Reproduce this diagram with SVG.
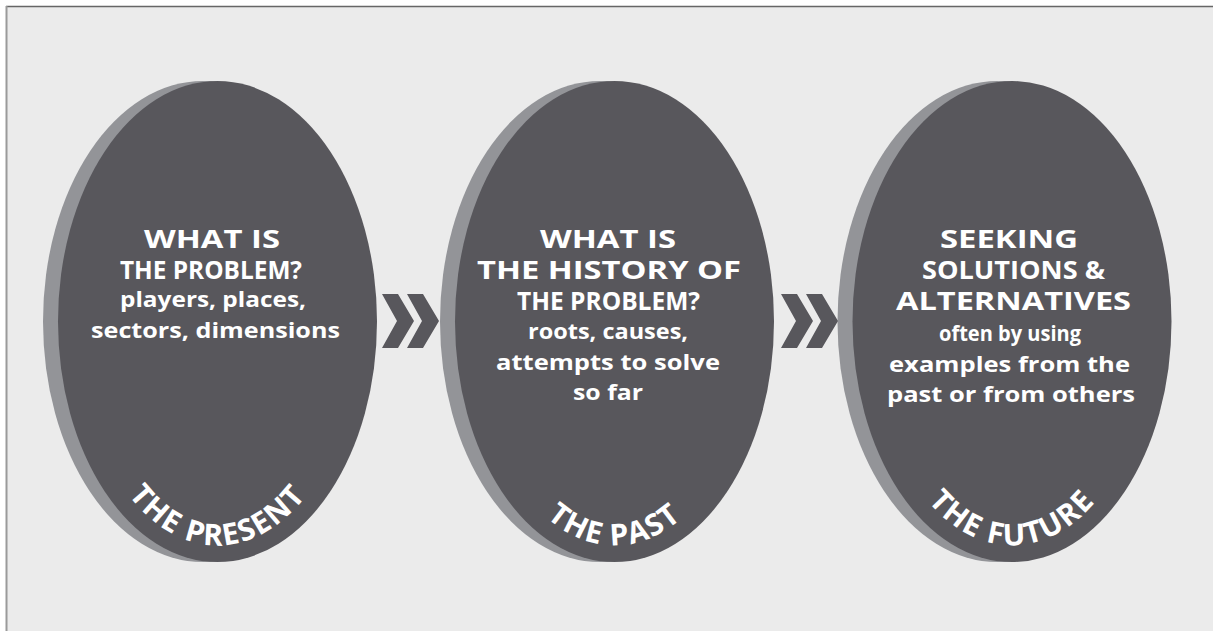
<svg xmlns="http://www.w3.org/2000/svg" width="1213" height="631" viewBox="0 0 1213 631">
<style>
.shadow{fill:#939498}
.oval{fill:#58575c}
.chev{fill:#58575c}
.h{font-family:"Open Sans","Liberation Sans",sans-serif;font-weight:bold;font-size:25px;fill:#fff;text-anchor:middle}
.s{font-family:"Open Sans","Liberation Sans",sans-serif;font-weight:bold;font-size:21px;fill:#fff;text-anchor:middle}
.c{font-family:"Open Sans","Liberation Sans",sans-serif;font-weight:bold;font-size:30px;fill:#fff;text-anchor:middle;letter-spacing:1.5px}
</style>
<defs>
<path id="arc1" d="M 76.5 321.5 A 141 224 0 0 0 358.5 321.5"/>
<path id="arc2" d="M 473.5 321.5 A 141 224 0 0 0 755.5 321.5"/>
<path id="arc3" d="M 871 321.5 A 141 224 0 0 0 1153 321.5"/>
</defs>
<rect x="0" y="0" width="1213" height="631" fill="#fff"/>
<rect x="6" y="6" width="1207" height="625" fill="#ebebeb"/>
<line x1="6" y1="6.5" x2="1213" y2="6.5" stroke="#666" stroke-width="1.5"/>
<line x1="6.5" y1="6" x2="6.5" y2="631" stroke="#9a9a9a" stroke-width="2"/>

<g id="present">
<ellipse class="shadow" cx="203" cy="321.5" rx="160" ry="240.5"/>
<ellipse class="oval" cx="217.5" cy="321.5" rx="159.5" ry="240.5"/>
<text class="h" x="212" y="248" textLength="136" lengthAdjust="spacingAndGlyphs">WHAT IS</text>
<text class="h" x="211" y="279" textLength="182" lengthAdjust="spacingAndGlyphs">THE PROBLEM?</text>
<text class="s" x="213" y="307" textLength="186" lengthAdjust="spacingAndGlyphs">players, places,</text>
<text class="s" x="215.5" y="338" textLength="249" lengthAdjust="spacingAndGlyphs">sectors, dimensions</text>
<text class="c"><textPath href="#arc1" startOffset="50%">THE PRESENT</textPath></text>
</g>

<g id="past">
<ellipse class="shadow" cx="600" cy="321.5" rx="160" ry="240.5"/>
<ellipse class="oval" cx="614.5" cy="321.5" rx="159.5" ry="240.5"/>
<text class="h" x="608" y="248" textLength="136" lengthAdjust="spacingAndGlyphs">WHAT IS</text>
<text class="h" x="609" y="279" textLength="264" lengthAdjust="spacingAndGlyphs">THE HISTORY OF</text>
<text class="h" x="608.5" y="310" textLength="183" lengthAdjust="spacingAndGlyphs">THE PROBLEM?</text>
<text class="s" x="608" y="339" textLength="160" lengthAdjust="spacingAndGlyphs">roots, causes,</text>
<text class="s" x="608" y="370" textLength="224" lengthAdjust="spacingAndGlyphs">attempts to solve</text>
<text class="s" x="608" y="400" textLength="70" lengthAdjust="spacingAndGlyphs">so far</text>
<text class="c"><textPath href="#arc2" startOffset="50%">THE PAST</textPath></text>
</g>

<g id="future">
<ellipse class="shadow" cx="997.5" cy="321.5" rx="160" ry="240.5"/>
<ellipse class="oval" cx="1012" cy="321.5" rx="159.5" ry="240.5"/>
<text class="h" x="1009" y="248" textLength="138" lengthAdjust="spacingAndGlyphs">SEEKING</text>
<text class="h" x="1013.5" y="279" textLength="183" lengthAdjust="spacingAndGlyphs">SOLUTIONS &amp;</text>
<text class="h" x="1013.5" y="310" textLength="235" lengthAdjust="spacingAndGlyphs">ALTERNATIVES</text>
<text class="s" x="1010" y="341" textLength="142" lengthAdjust="spacingAndGlyphs">often by using</text>
<text class="s" x="1009.5" y="372" textLength="241" lengthAdjust="spacingAndGlyphs">examples from the</text>
<text class="s" x="1011" y="402" textLength="248" lengthAdjust="spacingAndGlyphs">past or from others</text>
<text class="c"><textPath href="#arc3" startOffset="50%">THE FUTURE</textPath></text>
</g>

<g id="connectors">
<polygon class="chev" points="382,294 398,294 414,321 398,348 382,348 397,321"/>
<polygon class="chev" points="407,294 423,294 439,321 423,348 407,348 422,321"/>
<polygon class="chev" points="781,294 797,294 813,321 797,348 781,348 796,321"/>
<polygon class="chev" points="806,294 822,294 838,321 822,348 806,348 821,321"/>
</g>
</svg>
